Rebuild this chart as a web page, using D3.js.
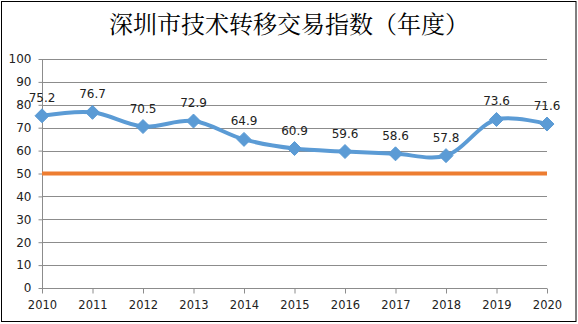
<!DOCTYPE html>
<html>
<head>
<meta charset="utf-8">
<script src="https://cdn.jsdelivr.net/npm/d3@7"></script>
<style>
  html, body { margin: 0; padding: 0; background: #fff; }
  svg { display: block; }
</style>
</head>
<body>
<svg id="chart" width="578" height="324"></svg>
<script>
// Shenzhen technology transfer index, yearly
const years = ["2010", "2011", "2012", "2013", "2014", "2015", "2016", "2017", "2018", "2019", "2020"];
const indexValues = [75.2, 76.7, 70.5, 72.9, 64.9, 60.9, 59.6, 58.6, 57.8, 73.6, 71.6];
const baselineValue = 50;
const yTicks = [0, 10, 20, 30, 40, 50, 60, 70, 80, 90, 100];
const titleText = "深圳市技术转移交易指数（年度）";

const W = 578, H = 324;
const margin = { left: 42, right: 31, top: 59, bottom: 36 };
const svg = d3.select("#chart");

// outer frame
svg.append("rect")
  .attr("x", 1.5).attr("y", 1.5)
  .attr("width", W - 3.5).attr("height", H - 4)
  .attr("fill", "#fff").attr("stroke", "#000").attr("stroke-width", 1);

const x = d3.scalePoint().domain(years).range([margin.left, W - margin.right]);
const y = d3.scaleLinear().domain([0, 100]).range([H - margin.bottom, margin.top]);

// title
svg.append("text")
  .attr("x", 289).attr("y", 33)
  .attr("text-anchor", "middle")
  .attr("font-family", "'Noto Serif CJK SC', 'Noto Sans CJK SC', serif")
  .attr("font-size", 24)
  .attr("fill", "#000")
  .text(titleText);

// horizontal gridlines
svg.append("g")
  .selectAll("line")
  .data(yTicks.filter(d => d > 0))
  .join("line")
  .attr("x1", margin.left).attr("x2", W - margin.right)
  .attr("y1", d => Math.round(y(d)) + 0.5).attr("y2", d => Math.round(y(d)) + 0.5)
  .attr("stroke", "#8c8c8c").attr("stroke-width", 1);

// y axis
const yAxis = svg.append("g")
  .attr("transform", `translate(${margin.left + 0.5},0)`)
  .call(d3.axisLeft(y).tickValues(yTicks).tickSize(4).tickPadding(7));
yAxis.select(".domain").attr("stroke", "#8c8c8c").attr("d", `M0,${y(100)}V${y(0)}`);
yAxis.selectAll(".tick line").attr("stroke", "#8c8c8c");
yAxis.selectAll("text")
  .attr("font-family", "Verdana, 'DejaVu Sans', sans-serif")
  .attr("font-size", 12).attr("fill", "#222");

// x axis
const xAxis = svg.append("g")
  .attr("transform", `translate(0,${Math.round(y(0)) + 0.5})`)
  .call(d3.axisBottom(x).tickSize(5).tickPadding(7));
xAxis.select(".domain").attr("stroke", "#8c8c8c").attr("d", `M${x(years[0])},0H${x(years[years.length - 1])}`);
xAxis.selectAll(".tick line").attr("stroke", "#8c8c8c");
xAxis.selectAll("text")
  .attr("font-family", "Verdana, 'DejaVu Sans', sans-serif")
  .attr("font-size", 11.5).attr("fill", "#222");

// 50 threshold line
svg.append("line")
  .attr("x1", x(years[0])).attr("x2", x(years[years.length - 1]))
  .attr("y1", y(baselineValue)).attr("y2", y(baselineValue))
  .attr("stroke", "#ED7D31").attr("stroke-width", 4);

// smoothed index line
const line = d3.line()
  .x((d, i) => x(years[i]))
  .y(d => y(d))
  .curve(d3.curveCatmullRom.alpha(0.5));

svg.append("path")
  .datum(indexValues)
  .attr("d", line)
  .attr("fill", "none")
  .attr("stroke", "#5B9BD5")
  .attr("stroke-width", 4)
  .attr("stroke-linejoin", "round");

// diamond markers
svg.append("g")
  .selectAll("path")
  .data(indexValues)
  .join("path")
  .attr("transform", (d, i) => `translate(${x(years[i])},${y(d)})`)
  .attr("d", "M0,-7L7,0L0,7L-7,0Z")
  .attr("fill", "#5B9BD5")
  .attr("stroke", "#5B9BD5")
  .attr("stroke-width", 1);

// value labels
svg.append("g")
  .selectAll("text")
  .data(indexValues)
  .join("text")
  .attr("x", (d, i) => x(years[i]))
  .attr("y", d => y(d) - 14)
  .attr("text-anchor", "middle")
  .attr("font-family", "Verdana, 'DejaVu Sans', sans-serif")
  .attr("font-size", 12)
  .attr("fill", "#222")
  .text(d => d.toFixed(1));
</script>
</body>
</html>
